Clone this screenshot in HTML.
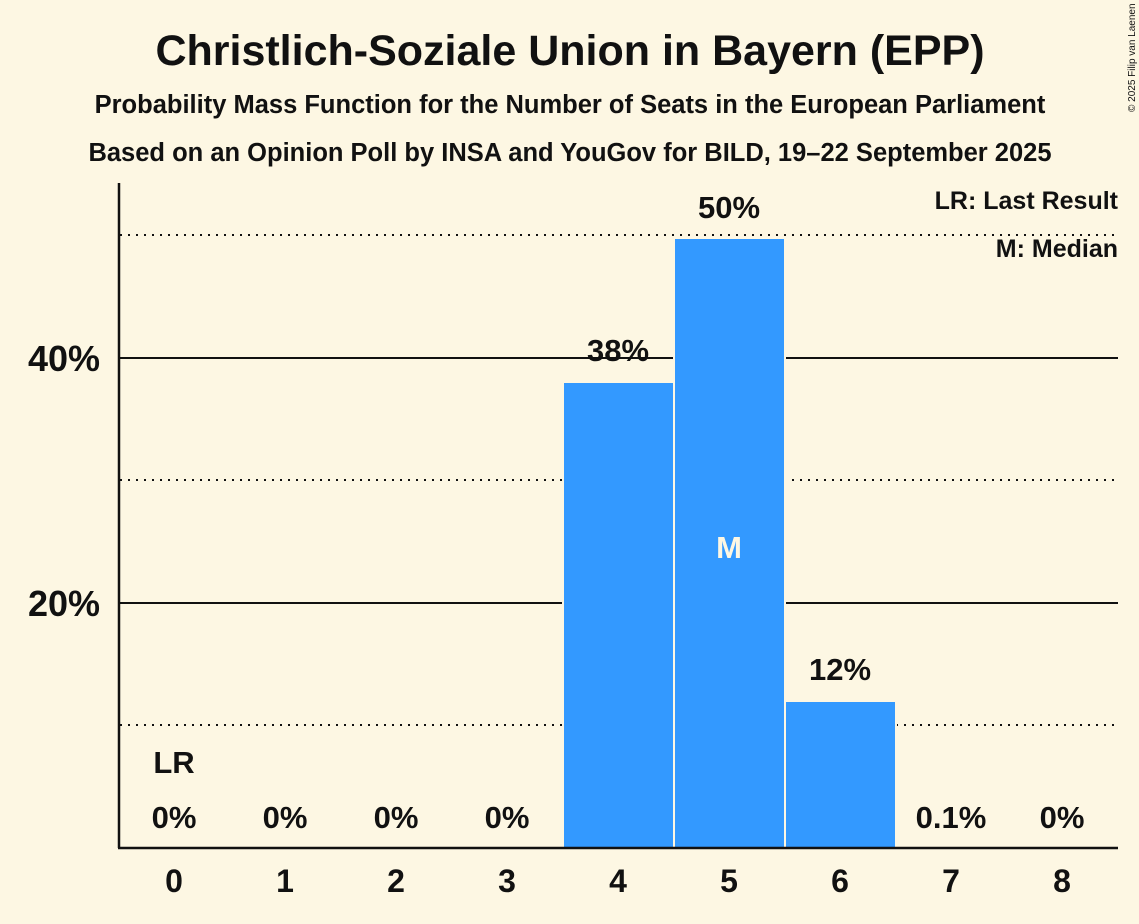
<!DOCTYPE html>
<html><head><meta charset="utf-8"><style>
body{margin:0;background:#fdf7e3}
svg{display:block}
text{font-family:"Liberation Sans",sans-serif;font-weight:bold;fill:#111}
</style></head><body>
<svg width="1139" height="924" viewBox="0 0 1139 924">
<rect width="1139" height="924" fill="#fdf7e3"/>
<text x="570" y="65" font-size="43" text-anchor="middle">Christlich-Soziale Union in Bayern (EPP)</text>
<text x="570" y="113" font-size="25.5" text-anchor="middle">Probability Mass Function for the Number of Seats in the European Parliament</text>
<text x="570" y="161" font-size="25.5" text-anchor="middle">Based on an Opinion Poll by INSA and YouGov for BILD, 19–22 September 2025</text>
<text transform="translate(1135,112) rotate(-90)" font-size="10" style="font-weight:normal">© 2025 Filip van Laenen</text>
<g stroke="#111" stroke-width="2" stroke-dasharray="2,6">
<line x1="120" y1="235" x2="1118" y2="235"/>
<line x1="120" y1="480" x2="1118" y2="480"/>
<line x1="120" y1="725" x2="1118" y2="725"/>
</g>
<g stroke="#111" stroke-width="2">
<line x1="120" y1="358" x2="1118" y2="358"/>
<line x1="120" y1="603" x2="1118" y2="603"/>
</g>
<g fill="#3399ff" stroke="#fdf7e3" stroke-width="2">
<rect x="563" y="382" width="111" height="466"/>
<rect x="674" y="238" width="111" height="610"/>
<rect x="785" y="701" width="111" height="147"/>
</g>
<g stroke="#111" stroke-width="2.5">
<line x1="119" y1="183" x2="119" y2="848"/>
<line x1="118" y1="848" x2="1118" y2="848"/>
</g>
<g font-size="36" text-anchor="end">
<text x="100" y="371">40%</text>
<text x="100" y="616">20%</text>
</g>
<g font-size="32" text-anchor="middle">
<text x="174" y="892">0</text><text x="285" y="892">1</text><text x="396" y="892">2</text>
<text x="507" y="892">3</text><text x="618" y="892">4</text><text x="729" y="892">5</text>
<text x="840" y="892">6</text><text x="951" y="892">7</text><text x="1062" y="892">8</text>
</g>
<g font-size="31" text-anchor="middle">
<text x="174" y="828">0%</text>
<text x="285" y="828">0%</text>
<text x="396" y="828">0%</text>
<text x="507" y="828">0%</text>
<text x="618" y="361">38%</text>
<text x="729" y="218">50%</text>
<text x="840" y="680">12%</text>
<text x="951" y="828">0.1%</text>
<text x="1062" y="828">0%</text>
<text x="174" y="773">LR</text>
<text x="729" y="558" style="fill:#fdf7e3">M</text>
</g>
<g font-size="25" text-anchor="end">
<text x="1118" y="209">LR: Last Result</text>
<text x="1118" y="257">M: Median</text>
</g>
</svg>
</body></html>
